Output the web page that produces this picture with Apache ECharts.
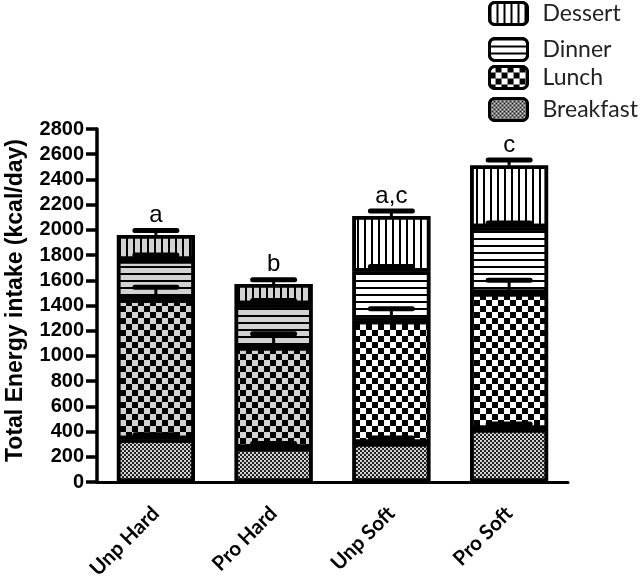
<!DOCTYPE html>
<html>
<head>
<meta charset="utf-8">
<script src="https://cdn.jsdelivr.net/npm/echarts@6/dist/echarts.min.js"></script>
<style>html,body{margin:0;padding:0;background:#fff}#c{width:643px;height:578px}</style>
</head>
<body>
<div id="c"></div>
<script>
var categories = ['Unp Hard', 'Pro Hard', 'Unp Soft', 'Pro Soft'];
var breakfast = [340, 270, 310, 420];
var lunch = [1110, 800, 970, 1080];
var dinner = [310, 340, 390, 520];
var dessert = [200, 160, 440, 490];
var breakfastErr = [35, 35, 40, 40];
var lunchErr = [95, 105, 95, 100];
var dinnerErr = [40, 30, 40, 35];
var dessertErr = [35, 35, 40, 45];
var letters = ['a', 'b', 'a,c', 'c'];
var hardGroup = [true, true, false, false];
var yTicks = [0, 2800, 200];
var legendNames = ['Dessert', 'Dinner', 'Lunch', 'Breakfast'];

var GRAY = '#d2d2d2';
var decals = {
  Breakfast: {symbol: 'rect', color: '#222', backgroundColor: 'transparent', dashArrayX: [[2, 2], [0, 2, 2, 0]], dashArrayY: [2, 0], symbolSize: 1, rotation: 0},
  Lunch: {symbol: 'rect', color: '#000', backgroundColor: 'transparent', dashArrayX: [[6, 6], [0, 6, 6, 0]], dashArrayY: [6, 0], symbolSize: 1, rotation: 0},
  Dinner: {symbol: 'rect', color: '#000', backgroundColor: 'transparent', dashArrayX: [1, 0], dashArrayY: [2, 5], symbolSize: 1, rotation: 0},
  Dessert: {symbol: 'rect', color: '#000', backgroundColor: 'transparent', dashArrayX: [2, 5], dashArrayY: [1, 0], symbolSize: 1, rotation: 0}
};

function barSeries(name, vals, alwaysGray) {
  return {
    name: name,
    type: 'bar',
    stack: 'total',
    barWidth: 78,
    itemStyle: {color: alwaysGray ? GRAY : '#fff', borderColor: '#000', borderWidth: 3.5, decal: decals[name]},
    data: vals.map(function (v, i) {
      return {value: v, itemStyle: {color: (alwaysGray || hardGroup[i]) ? GRAY : '#fff'}};
    }),
    z: 2
  };
}

var errData = [];
var sets = [[breakfast, breakfastErr], [lunch, lunchErr], [dinner, dinnerErr], [dessert, dessertErr]];
categories.forEach(function (c, i) {
  var cum = 0;
  sets.forEach(function (s) {
    cum += s[0][i];
    errData.push([i, cum, s[1][i]]);
  });
});

var dessertSeries = barSeries('Dessert', dessert, false);
dessertSeries.label = {
  show: true, position: 'top', distance: 8,
  formatter: function (p) { return letters[p.dataIndex]; },
  fontSize: 24, fontFamily: 'Liberation Sans', color: '#000'
};

var legendTops = [1, 37, 65, 97];
var legends = legendNames.map(function (n, k) {
  return {
    data: [n],
    orient: 'vertical',
    left: 488, top: legendTops[k], padding: 0,
    itemWidth: 38, itemHeight: 22,
    icon: 'roundRect',
    itemStyle: {borderColor: '#000', borderWidth: 3},
    textStyle: {fontSize: 23, fontFamily: 'Lato', color: '#222', padding: [0, 0, 0, 10]}
  };
});

var chart = echarts.init(document.getElementById('c'), null, {renderer: 'canvas'});
chart.setOption({
  animation: false,
  backgroundColor: '#fff',
  legend: legends,
  grid: {left: 97, right: 75, top: 129, bottom: 96, containLabel: false, outerBoundsMode: 'none'},
  xAxis: {
    type: 'category',
    data: categories,
    axisLine: {lineStyle: {color: '#000', width: 3}},
    axisTick: {alignWithLabel: true, length: 7, lineStyle: {width: 3, color: '#000'}},
    axisLabel: {rotate: 45, fontSize: 20.5, fontWeight: 'bold', fontFamily: 'Lato', color: '#000', margin: 28}
  },
  yAxis: {
    type: 'value',
    min: yTicks[0], max: yTicks[1], interval: yTicks[2],
    name: 'Total Energy intake (kcal/day)',
    nameLocation: 'middle', nameGap: 70,
    nameTextStyle: {fontSize: 23, fontWeight: 'bold', fontFamily: 'Liberation Sans', color: '#000', padding: [0, 0, 0, 10]},
    axisLine: {show: true, lineStyle: {color: '#000', width: 3.5}},
    axisTick: {show: true, length: 11, lineStyle: {width: 3.5, color: '#000'}},
    axisLabel: {fontSize: 20, fontWeight: 'bold', fontFamily: 'Liberation Sans', color: '#000', margin: 13,
      formatter: function (v) { return String(v); }},
    splitLine: {show: false}
  },
  series: [
    barSeries('Breakfast', breakfast, true),
    barSeries('Lunch', lunch, false),
    barSeries('Dinner', dinner, false),
    dessertSeries,
    {
      type: 'custom',
      name: 'err',
      z: 5,
      encode: {x: 0, y: 1},
      data: errData,
      renderItem: function (params, api) {
        var x = api.value(0), top = api.value(1), e = api.value(2);
        var p0 = api.coord([x, top]);
        var p1 = api.coord([x, top + e]);
        var half = 21;
        return {
          type: 'group',
          children: [
            {type: 'line', shape: {x1: p0[0], y1: p0[1], x2: p1[0], y2: p1[1]}, style: {stroke: '#000', lineWidth: 3}},
            {type: 'line', shape: {x1: p1[0] - half, y1: p1[1], x2: p1[0] + half, y2: p1[1]}, style: {stroke: '#000', lineWidth: 5, lineCap: 'round'}}
          ]
        };
      }
    }
  ]
});
</script>
</body>
</html>
